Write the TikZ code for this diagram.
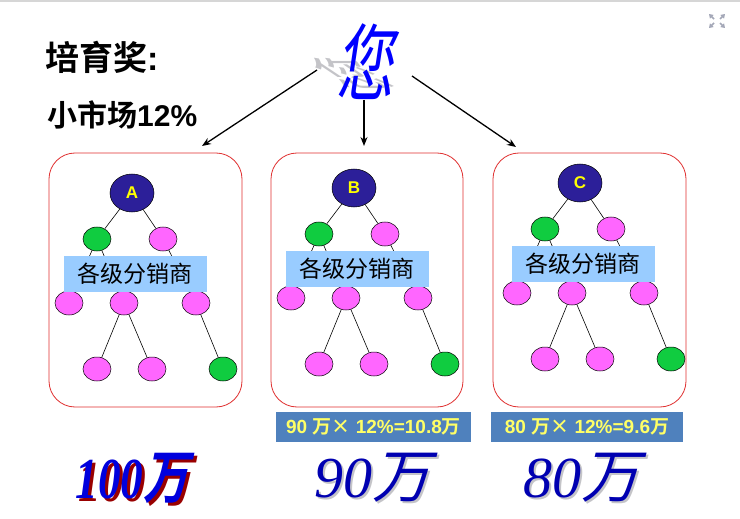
\documentclass[tikz,border=0pt]{standalone}
\usepackage{fontspec}
\setmainfont{Liberation Sans}
\newfontfamily\cjk[BoldFont={Noto Sans CJK SC Bold}]{Noto Sans CJK SC}
\newfontfamily\cjksl[FakeSlant=0.25,BoldFont={Noto Sans CJK SC Bold}]{Noto Sans CJK SC}
\newfontfamily\numfont{Liberation Serif}
\usetikzlibrary{shapes.geometric,arrows.meta}
\definecolor{panelred}{HTML}{E03030}
\definecolor{rootblue}{HTML}{2C1F99}
\definecolor{leafgreen}{HTML}{10CC40}
\definecolor{leafpink}{HTML}{FF66FF}
\definecolor{boxblue}{HTML}{99CCFF}
\definecolor{calcblue}{HTML}{4F81BD}
\definecolor{calcyellow}{HTML}{FFFF66}
\definecolor{letteryellow}{HTML}{FFFF00}
\definecolor{bigblue}{HTML}{0000DD}
\definecolor{shadowred}{HTML}{990000}
\definecolor{shadowgrey}{HTML}{C4C4C8}
\definecolor{icongrey}{HTML}{A4A8B8}
\tikzset{
  panel/.style={draw=panelred, line width=0.8pt, rounded corners=26pt},
  rootnode/.style={ellipse, draw=black, line width=0.5pt, fill=rootblue, minimum width=44pt, minimum height=38pt, inner sep=0pt, text=letteryellow, font=\bfseries\fontsize{17}{17}\selectfont},
  greennode/.style={ellipse, draw=black, line width=0.5pt, fill=leafgreen, minimum width=28pt, minimum height=24pt, inner sep=0pt},
  pinknode/.style={ellipse, draw=black, line width=0.5pt, fill=leafpink, minimum width=28pt, minimum height=24pt, inner sep=0pt},
  edge/.style={draw=black, line width=0.6pt},
  labelbox/.style={fill=boxblue, minimum width=143pt, minimum height=36pt, inner sep=0pt, font=\cjk\fontsize{23}{23}\selectfont},
  calcbox/.style={fill=calcblue, minimum height=30pt, inner sep=0pt, text=calcyellow, font=\bfseries\fontsize{19}{19}\selectfont},
  arrowline/.style={line width=1.3pt, -{Stealth[length=9pt,width=7pt]}},
  bignum/.style={inner sep=0pt, font=\fontsize{58}{58}\selectfont},
}
\newcommand\salestree[4]{%
  \begin{scope}[shift={(#2,#3)}]
    \node[rootnode] (#1r) at (0,0) {#4};
    \node[greennode] (#1g) at (-35,46) {};
    \node[pinknode] (#1p) at (31,46) {};
    \node[pinknode] (#1a) at (-63,110) {};
    \node[pinknode] (#1b) at (-8,110) {};
    \node[pinknode] (#1c) at (64,110) {};
    \node[pinknode] (#1d) at (-35,176) {};
    \node[pinknode] (#1e) at (20,176) {};
    \node[greennode] (#1f) at (91,176) {};
    \draw[edge] (#1r) -- (#1g);
    \draw[edge] (#1r) -- (#1p);
    \draw[edge] (#1g) -- (#1a);
    \draw[edge] (#1g) -- (#1b);
    \draw[edge] (#1p) -- (#1c);
    \draw[edge] (#1b) -- (#1d);
    \draw[edge] (#1b) -- (#1e);
    \draw[edge] (#1c) -- (#1f);
    \node[labelbox] (#1box) at (3,81) {各级分销商};
  \end{scope}}
\begin{document}
\begin{tikzpicture}[x=1pt,y=-1pt]
\useasboundingbox (0,0) rectangle (740,519);
\fill[white] (0,0) rectangle (740,519);
\fill[black!16] (0,0) rectangle (740,2);
% expand icon
\begin{scope}[icongrey, line width=1.6pt]
  \draw[-{Triangle[length=4pt,width=5pt]}] (714,19) -- (709,14);
  \draw[-{Triangle[length=4pt,width=5pt]}] (720,19) -- (725,14);
  \draw[-{Triangle[length=4pt,width=5pt]}] (714,23) -- (709,28);
  \draw[-{Triangle[length=4pt,width=5pt]}] (720,23) -- (725,28);
\end{scope}
% titles
\node[anchor=west, inner sep=0pt, font=\bfseries\fontsize{34}{34}\selectfont] (title) at (45,57) {{\cjk 培育奖}:};
\node[anchor=west, inner sep=0pt, font=\bfseries\fontsize{30}{30}\selectfont] (sub) at (47,115) {{\cjk 小市场}12\%};
% you
\begin{scope}[shift={(350,73)}]
  \node[inner sep=0pt, text=shadowgrey, font=\cjk\fontsize{80}{80}\selectfont, xscale=0.7, yscale=0.42, xslant=-0.9, transform shape] (youshadow) at (0,0) {您};
\end{scope}
\begin{scope}[shift={(370,62)}]
  \node[inner sep=0pt, text=blue, font=\cjk\fontsize{84}{84}\selectfont, xscale=0.68, xslant=0.22, transform shape] (you) at (0,0) {您};
\end{scope}
\coordinate (s1) at (317,70);
\coordinate (e1) at (202,146);
\coordinate (s2) at (364,100);
\coordinate (e2) at (364,146);
\coordinate (s3) at (412,76);
\coordinate (e3) at (516,147);
\draw[arrowline] (s1) -- (e1);
\draw[arrowline] (s2) -- (e2);
\draw[arrowline] (s3) -- (e3);
% panels
\draw[panel] (49,153) rectangle (242,407);
\draw[panel] (271,153) rectangle (463,407);
\draw[panel] (493,153) rectangle (686,407);
\salestree{A}{132}{193}{A}
\salestree{B}{354}{188}{B}
\salestree{C}{580}{183}{C}
% calc boxes
\node[calcbox, minimum width=195pt] (calcB) at (373.5,427) {90 {\cjk\bfseries 万×} 12\%=10.8{\cjk\bfseries 万}};
\node[calcbox, minimum width=192pt] (calcC) at (587,427) {80 {\cjk\bfseries 万×} 12\%=9.6{\cjk\bfseries 万}};
% big numbers
\begin{scope}[shift={(135,481)}]
  \node[bignum, text=shadowred, xscale=0.78, transform shape] (bigAs) at (0,0) {{\numfont\bfseries\itshape 100}{\cjksl\bfseries 万}};
\end{scope}
\begin{scope}[shift={(132,478)}]
  \node[bignum, text=bigblue, xscale=0.78, transform shape] (bigA) at (0,0) {{\numfont\bfseries\itshape 100}{\cjksl\bfseries 万}};
\end{scope}
\node[bignum, text=shadowgrey] (bigBs) at (374,480) {{\numfont\itshape 90}{\cjksl 万}};
\node[bignum, text=bigblue!80!black] (bigB) at (372,478) {{\numfont\itshape 90}{\cjksl 万}};
\node[bignum, text=shadowgrey] (bigCs) at (583,480) {{\numfont\itshape 80}{\cjksl 万}};
\node[bignum, text=bigblue!80!black] (bigC) at (581,478) {{\numfont\itshape 80}{\cjksl 万}};
\end{tikzpicture}
\end{document}
